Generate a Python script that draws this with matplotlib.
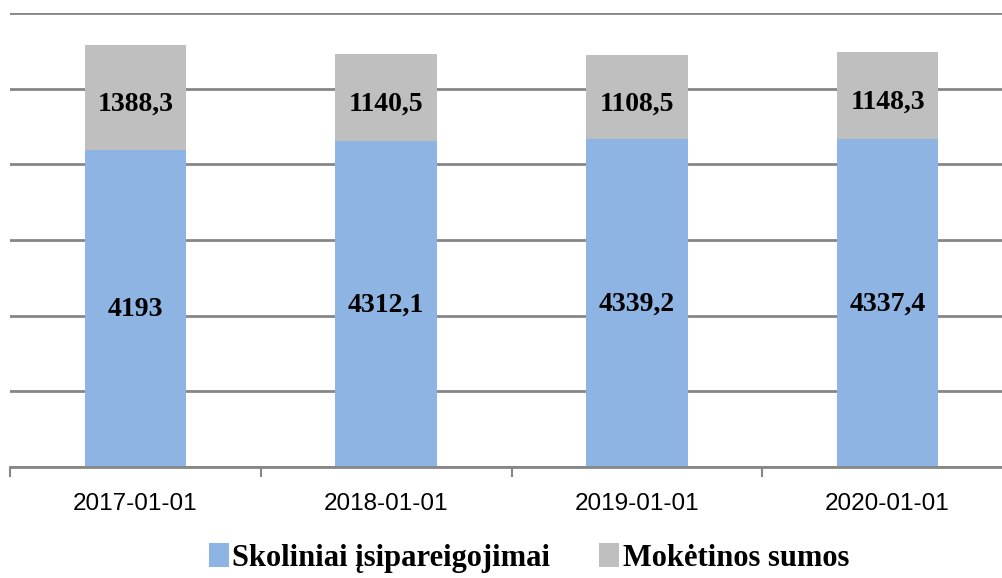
import numpy as np
import matplotlib.pyplot as plt
from matplotlib.ticker import FixedLocator

datos = ['2017-01-01', '2018-01-01', '2019-01-01', '2020-01-01']
skoliniai = [4193, 4312.1, 4339.2, 4337.4]
moketinos = [1388.3, 1140.5, 1108.5, 1148.3]
sk_labels = ['4193', '4312,1', '4339,2', '4337,4']
mo_labels = ['1388,3', '1140,5', '1108,5', '1148,3']

blue = '#8EB4E3'
grey = '#BFBFBF'
gridc = '#868686'

fig = plt.figure(figsize=(10.02, 5.78), dpi=100)
# plot area: x 10..1013 px, y 13..467 px
ax = fig.add_axes([10 / 1002, (578 - 467) / 578, 1003 / 1002, 454 / 578])

x = np.arange(len(datos))
w = 0.405
ax.bar(x, skoliniai, w, color=blue, label='Skoliniai įsipareigojimai', zorder=3)
ax.bar(x, moketinos, w, bottom=skoliniai, color=grey, label='Mokėtinos sumos', zorder=3)

lbl = dict(fontsize=20, fontweight='bold', family='Liberation Serif', color='black',
           ha='center', va='center', textcoords='offset points', zorder=5)
for i in range(len(datos)):
    ax.annotate(sk_labels[i], (x[i], skoliniai[i] / 2), xytext=(0, -1), **lbl)
    ax.annotate(mo_labels[i], (x[i], skoliniai[i] + moketinos[i] / 2), xytext=(0, -5), **lbl)

ax.set_xlim(-0.5, len(datos) - 0.5)
ax.set_ylim(0, 6000)
ax.set_yticks(np.arange(0, 6001, 1000))
ax.yaxis.grid(True, color=gridc, linewidth=2, zorder=0)
ax.tick_params(axis='y', left=False, labelleft=False)
for s in ['left', 'right', 'top']:
    ax.spines[s].set_visible(False)
ax.spines['bottom'].set_color(gridc)
ax.spines['bottom'].set_linewidth(2)
ax.spines['bottom'].set_zorder(4)

ax.set_xticks(x)
ax.set_xticklabels(datos, fontsize=17.5, family='Liberation Sans')
ax.tick_params(axis='x', which='major', length=0, pad=19)
ax.xaxis.set_minor_locator(FixedLocator(np.arange(-0.5, len(datos), 1.0)))
ax.tick_params(axis='x', which='minor', length=7, width=1.5, color=gridc)

fig.legend(loc='center', bbox_to_anchor=(0.528, 1 - 558 / 578), ncol=2, frameon=False,
           prop={'family': 'Liberation Serif', 'weight': 'bold', 'size': 22},
           handlelength=0.65, handleheight=0.8, handletextpad=0.12, columnspacing=1.6)

fig.savefig('out.png', dpi=100)
